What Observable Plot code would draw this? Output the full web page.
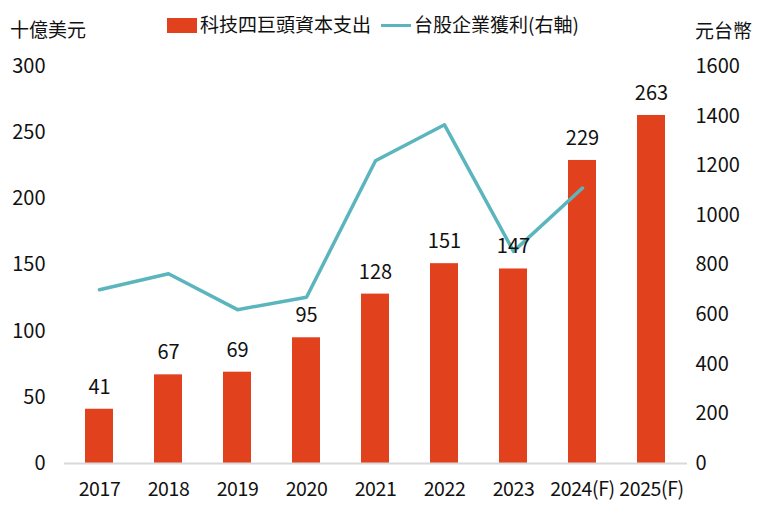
<!DOCTYPE html>
<html><head><meta charset="utf-8">
<script src="https://cdn.jsdelivr.net/npm/d3@7"></script>
<script src="https://cdn.jsdelivr.net/npm/@observablehq/plot@0.6"></script>
<style>
body{margin:0;background:#fff;font-family:"Noto Sans CJK TC","Noto Sans",sans-serif;}
#wrap{position:relative;width:760px;height:513px;}
.t{position:absolute;font-size:19px;color:#111;white-space:nowrap;line-height:1;}
.sw{position:absolute;}
.xax text{letter-spacing:-0.4px;}
</style></head>
<body>
<div id="wrap">
  <div class="t" style="left:10px;top:19px;">十億美元</div>
  <div class="sw" style="left:167px;top:18px;width:30px;height:15px;background:#e1411d;"></div>
  <div class="t" style="left:200px;top:14px;">科技四巨頭資本支出</div>
  <div class="sw" style="left:381px;top:24px;width:30px;height:3px;background:#5bb5bd;"></div>
  <div class="t" style="left:414px;top:14px;">台股企業獲利(右軸)</div>
  <div class="t" style="left:695px;top:20px;">元台幣</div>
  <div id="chart" style="position:absolute;left:0;top:0;"></div>
</div>
<script>
const years = ["2017","2018","2019","2020","2021","2022","2023","2024(F)","2025(F)"];
const capex = [41,67,69,95,128,151,147,229,263];
const lineYears = ["2017","2018","2019","2020","2021","2022","2023","2024(F)"];
const profit = [700,765,620,670,1220,1365,855,1110];
const leftTicks = [0,50,100,150,200,250,300];
const rightTicks = [0,200,400,600,800,1000,1200,1400,1600];

const k = 300/1600;
const bars = years.map((y,i)=>({year:y, v:capex[i]}));
const pts = lineYears.map((y,i)=>({year:y, v:profit[i]*k}));

const chart = Plot.plot({
  width:760, height:513,
  marginTop:66, marginBottom:50, marginLeft:64, marginRight:73,
  style:{fontFamily:'"Noto Sans CJK TC","Noto Sans",sans-serif', fontSize:"20px", color:"#111", background:"transparent"},
  x:{domain:years, paddingInner:0.59, paddingOuter:0.29, label:null},
  y:{domain:[0,300], label:null},
  marks:[
    Plot.axisX({tickSize:0, tickPadding:19, fontSize:19.5, label:null, className:"xax"}),
    Plot.axisY(leftTicks,{anchor:"left", tickSize:0, tickPadding:19, fontSize:20, label:null}),
    Plot.axisY(rightTicks.map(d=>d*k),{anchor:"right", tickSize:0, tickPadding:8, fontSize:20, label:null, tickFormat:d=>String(Math.round(d/k))}),
    Plot.barY(bars,{x:"year", y:"v", fill:"#e1411d"}),
    Plot.ruleY([0],{stroke:"#d9d9d9", strokeWidth:2}),
    Plot.line(pts,{x:"year", y:"v", stroke:"#5bb5bd", strokeWidth:3.5}),
    Plot.text(bars,{x:"year", y:"v", text:d=>String(d.v), dy:-22, fontSize:20, fill:"#111"})
  ]
});
document.getElementById("chart").appendChild(chart);
</script>
</body></html>
